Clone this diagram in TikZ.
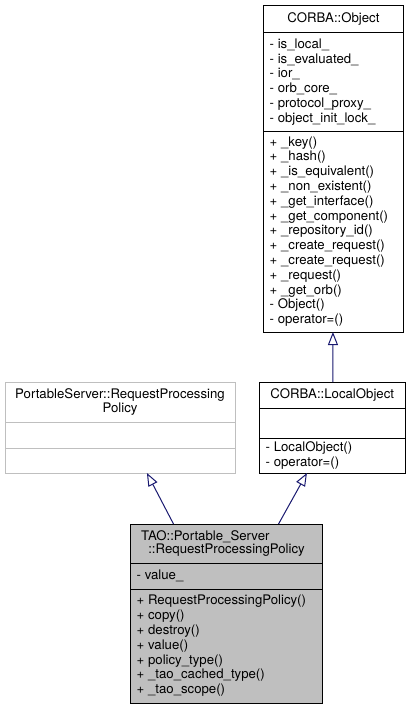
\documentclass[tikz,border=0pt]{standalone}
\usepackage{fontspec}
\setmainfont{TeX Gyre Heros}
\usetikzlibrary{arrows.meta,calc}
\definecolor{edgeblue}{HTML}{191970}
\definecolor{greyb}{HTML}{BFBFBF}
\begin{document}
\begin{tikzpicture}[x=1pt,y=-1pt,
  box/.style={draw=black, line width=1pt, rectangle, inner sep=0pt, outer sep=0pt, anchor=north west},
  sep/.style={draw=black, line width=1pt},
  txt/.style={inner sep=0pt, font=\fontsize{13.2}{14.8}\selectfont, align=left, anchor=west, text=black},
  ttl/.style={inner sep=0pt, font=\fontsize{13.2}{14.8}\selectfont, align=center, text=black},
  inh/.style={draw=edgeblue, line width=1pt, -{Triangle[open, length=13pt, width=10pt, fill=white]}}]
\useasboundingbox (0,0) rectangle (412,709);
\fill[white] (0,0) rectangle (412,709);

% CORBA::Object
\node[box, minimum width=140pt, minimum height=326pt] (obj) at (263.5,6) {};
\draw[sep] (263.5,33) -- (403.5,33);
\draw[sep] (263.5,131) -- (403.5,131);
\node[ttl] (objt) at (333.5,19.5) {CORBA::Object};
\node[txt] (obja) at (269.5,82) {- is\_local\_\\- is\_evaluated\_\\- ior\_\\- orb\_core\_\\- protocol\_proxy\_\\- object\_init\_lock\_};
\node[txt] (objm) at (269.5,231.5) {+ \_key()\\+ \_hash()\\+ \_is\_equivalent()\\+ \_non\_existent()\\+ \_get\_interface()\\+ \_get\_component()\\+ \_repository\_id()\\+ \_create\_request()\\+ \_create\_request()\\+ \_request()\\+ \_get\_orb()\\- Object()\\- operator=()};

% CORBA::LocalObject
\node[box, minimum width=145.5pt, minimum height=91pt] (lo) at (259.5,382) {};
\draw[sep] (259.5,408) -- (405,408);
\draw[sep] (259.5,438) -- (405,438);
\node[ttl] (lot) at (332.25,395) {CORBA::LocalObject};
\node[txt] (lom) at (265.5,455.5) {- LocalObject()\\- operator=()};

% PortableServer::RequestProcessingPolicy
\node[box, draw=greyb, minimum width=230pt, minimum height=91pt] (ps) at (5,382) {};
\draw[sep, draw=greyb] (5,422) -- (235,422);
\draw[sep, draw=greyb] (5,448) -- (235,448);
\node[ttl] (pst) at (120,402) {PortableServer::RequestProcessing\\Policy};

% TAO::Portable_Server::RequestProcessingPolicy
\node[box, fill=greyb, minimum width=192pt, minimum height=179pt] (tao) at (130.5,524) {};
\draw[sep] (130.5,563) -- (322.5,563);
\draw[sep] (130.5,589) -- (322.5,589);
\node[txt] (taot1) at (141,537) {TAO::Portable\_Server};
\node[ttl] (taot2) at (226.5,550.5) {::RequestProcessingPolicy};
\node[txt] (taoa) at (136.5,576) {- value\_};
\node[txt] (taom) at (136.5,646) {+ RequestProcessingPolicy()\\+ copy()\\+ destroy()\\+ value()\\+ policy\_type()\\+ \_tao\_cached\_type()\\+ \_tao\_scope()};

% inheritance
\draw[inh] ($(tao.north west)!0.224!(tao.north east)$) -- ($(ps.south west)!0.617!(ps.south east)$);
\draw[inh] ($(tao.north west)!0.771!(tao.north east)$) -- ($(lo.south west)!0.326!(lo.south east)$);
\draw[inh] ($(lo.north west)!0.505!(lo.north east)$) -- ($(obj.south west)!0.496!(obj.south east)$);
\end{tikzpicture}
\end{document}
